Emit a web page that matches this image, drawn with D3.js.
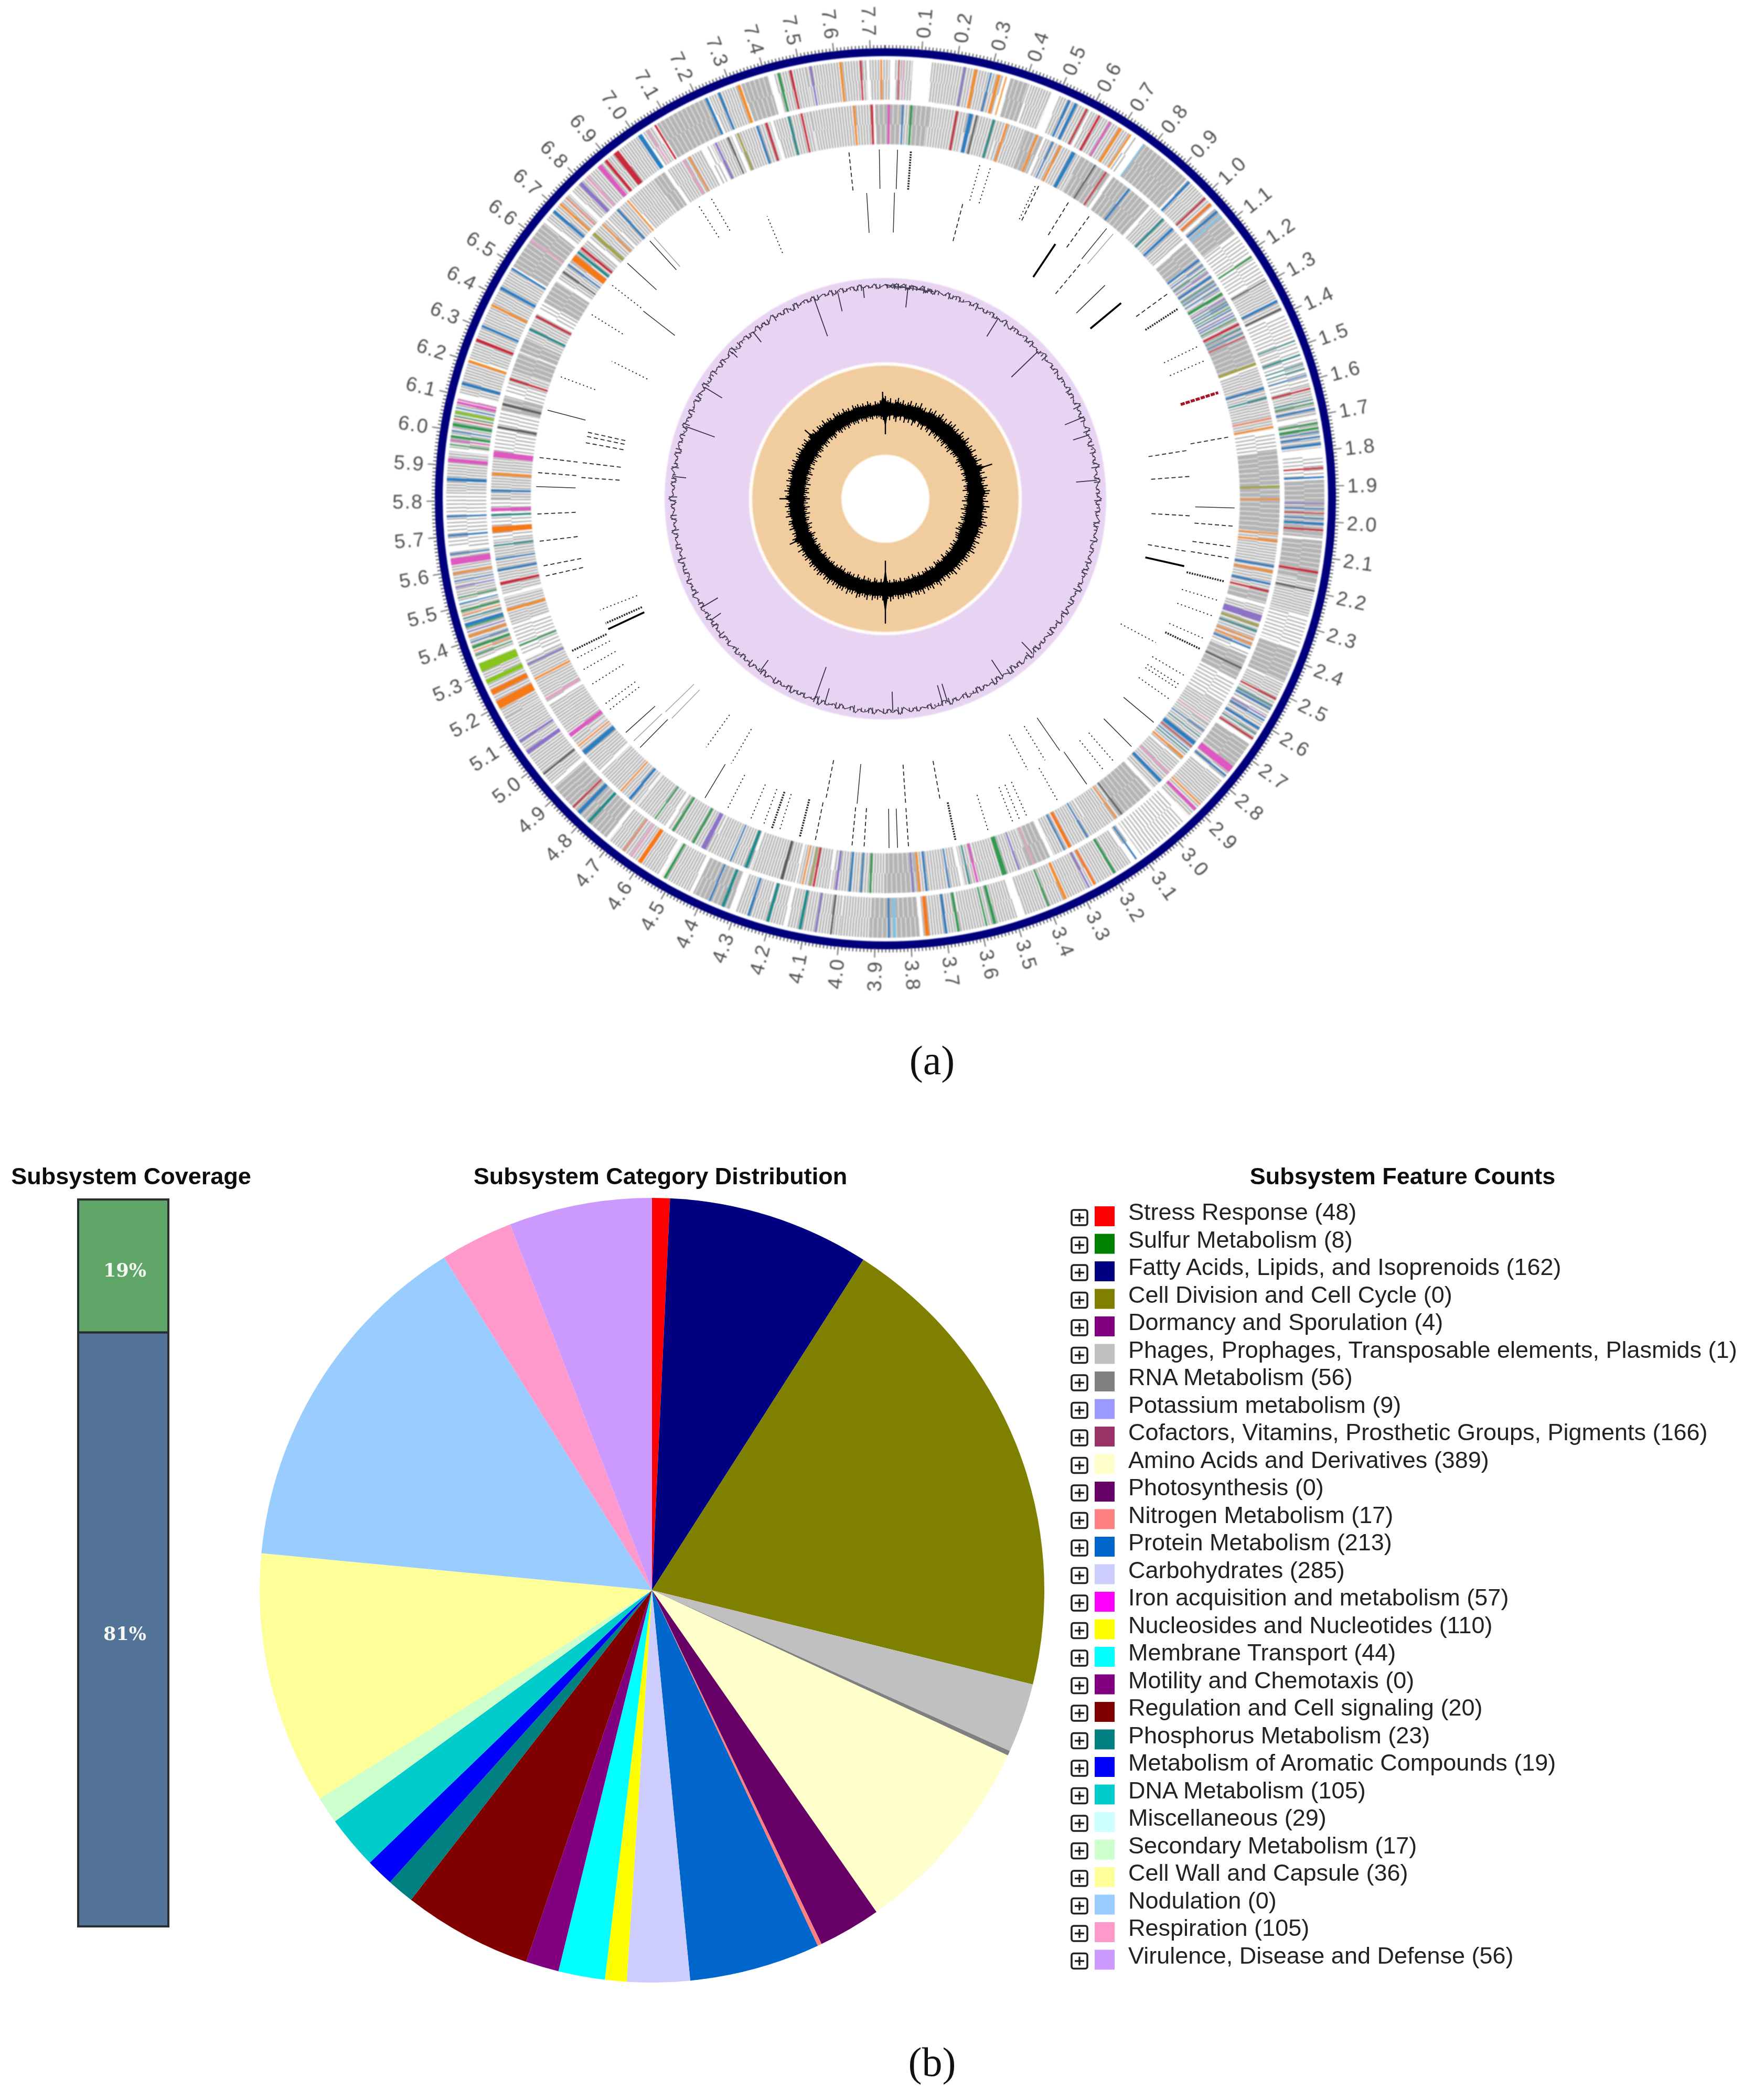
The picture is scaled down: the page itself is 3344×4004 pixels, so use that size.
<!DOCTYPE html>
<html><head><meta charset="utf-8">
<script src="https://cdn.jsdelivr.net/npm/d3@7/dist/d3.min.js"></script>
<style>html,body{margin:0;padding:0;background:#fff}svg{display:block}</style></head>
<body><svg id="c" width="3344" height="4004"></svg>
<script>
// ---------- DATA ----------
const categories=["Stress Response","Sulfur Metabolism","Fatty Acids, Lipids, and Isoprenoids","Cell Division and Cell Cycle","Dormancy and Sporulation","Phages, Prophages, Transposable elements, Plasmids","RNA Metabolism","Potassium metabolism","Cofactors, Vitamins, Prosthetic Groups, Pigments","Amino Acids and Derivatives","Photosynthesis","Nitrogen Metabolism","Protein Metabolism","Carbohydrates","Iron acquisition and metabolism","Nucleosides and Nucleotides","Membrane Transport","Motility and Chemotaxis","Regulation and Cell signaling","Phosphorus Metabolism","Metabolism of Aromatic Compounds","DNA Metabolism","Miscellaneous","Secondary Metabolism","Cell Wall and Capsule","Nodulation","Respiration","Virulence, Disease and Defense"];
const featureCounts=[48,8,162,0,4,1,56,9,166,389,0,17,213,285,57,110,44,0,20,23,19,105,29,17,36,0,105,56];
const categoryColors=["#ff0000","#008000","#000080","#808000","#800080","#c0c0c0","#808080","#9999ff","#993366","#ffffcc","#660066","#ff8080","#0066cc","#ccccff","#ff00ff","#ffff00","#00ffff","#800080","#800000","#008080","#0000ff","#00cccc","#ccffff","#ccffcc","#ffff99","#99ccff","#ff99cc","#cc99ff"];
const pieShares=[2.64,0,29.96,71.3,0,10.3,0.7,0,0,30.2,9.3,0.6,19.4,9.3,0,3.2,6.9,4.9,19.2,4,4.1,7.9,0,4,37.5,52.6,10.8,21.2];
const coverageShares=[18.3,81.7];
const coverageLabels=["19%","81%"];
const coverageColors=["#5fa568","#527297"];
const genomeLengthMb=7.742;
const tickLabels=d3.range(1,78).map(i=>(i/10).toFixed(1));

// ring bands: [start, end, density] in degrees of the genome circle; density 0 solid, 1 hatched, 2 sparse
const outerBands=[[357.9,360.6,1],[1.3,3.6,1],[6.1,15.6,1],[16.6,19.2,0],[19.4,22.3,1],[23.4,27.7,1],[28,33.8,1],[34.3,35,2],[36,43.3,0],[43.5,48.3,1],[48.6,52.8,0],[53,56,2],[56,59.5,2],[59.7,64.6,1],[65,70,2],[70,75,2],[75,79,1],[79.5,83.3,1],[84.3,87.3,2],[87.5,95.2,0],[95.5,101,0],[101,105.6,1],[105.8,110,2],[110.3,114.8,0],[115,119.3,1],[119.5,123.4,1],[124,127.5,0],[127.5,129.6,1],[130,136.3,1],[137,144.3,2],[144.8,145.5,2],[146,151.3,1],[151.5,156,1],[156,161.5,1],[162.5,170,1],[170,175,1],[175.5,182,0],[182,186,1],[186,193,1],[193.5,196,1],[196,200,1],[200.8,206,0],[206.5,210.6,1],[211.2,219,1],[219.5,229,0],[229.5,235,1],[235,240,1],[240,245,1],[245.5,248,1],[248.5,256,1],[256.5,263,1],[263.5,271,2],[271,276.3,1],[276.7,283.3,1],[284,288.3,1],[288.7,295,1],[295,301.5,1],[302,309,0],[309.5,314,1],[314.5,322,1],[322,326,1],[326.5,328,1],[328.6,336,0],[336.3,340.5,1],[340.8,344.5,0],[345.3,349.5,1],[349.5,357.5,1]];
const innerBands=[[358.5,362.2,0],[362.2,364,1],[4,6.5,0],[6.5,12,1],[12,17,1],[17,21,1],[21,23.6,0],[24,30,1],[30,34.8,0],[35.3,42,0],[42.5,49,1],[49.6,52.5,0],[52.5,58,1],[58,63.5,1],[63.5,69.8,0],[70.5,74,1],[74,79.8,1],[80.2,83,2],[83,86,0],[86,95,0],[95,104,1],[104,105.5,0],[106,112.5,1],[112.7,113.4,2],[113.5,117.3,0],[117.6,121.5,2],[121.5,125,1],[125,131.5,1],[131.8,137.2,1],[137.7,143.5,0],[143.5,148,1],[148,154.7,1],[155.3,158.5,0],[158.5,166,1],[166,168.5,1],[169,175,1],[175,180,0],[180,188,1],[188.3,193,1],[193.3,200,1],[200.2,206.5,1],[206.5,213.5,1],[214,219,1],[219.2,226,1],[226.5,232,1],[232,238.5,1],[239,246,1],[246.5,251,2],[251.3,255.5,1],[256,264,1],[264,270,2],[270,276,1],[276.6,283,2],[283,285.2,0],[285.5,287,2],[287,289,1],[289,291.8,0],[292,294,0],[294,298,1],[298.5,300,2],[300,303.5,0],[304,307,1],[307,311,1],[311.5,315,1],[315.3,319,1],[319.5,324,1],[324,326,0],[326.5,332.2,1],[332.8,333.8,2],[334,337,1],[337.5,343,1],[343.5,349,1],[349,358.2,1]];

// gene stripes: [start, end, functional class code]
const stripeColors=["#2b7fc0","#f0902c","#c92a3c","#2f9b52","#88c41c","#8d72c8","#dd58c0","#e2a3c4","#1f8d8d","#5a5a5a","#e58f74","#7cc4ea","#a4a34e","#f47a14"];
const outerStripes=[[359.3,359.6,1],[1.7,1.9,2],[2.3,2.5,7],[10.3,10.6,5],[11.7,12.2,1],[13.8,14.1,0],[14.8,15.3,1],[15.9,16.1,1],[24.6,25,0],[25.5,26,0],[27.2,27.5,2],[29,29.4,2],[30.7,31,6],[32.2,32.7,1],[33.8,34.1,1],[36,36.2,11],[43.6,44,0],[46.6,46.9,2],[47.6,48,13],[48.9,49.3,0],[49.7,50,11],[56.4,56.7,3],[60,60.2,9],[63,63.4,0],[64.2,64.5,9],[68.8,69,8],[70.7,71,8],[72,72.2,8],[72.6,72.8,8],[73.5,73.7,0],[75.3,75.6,2],[76.8,77,8],[77.3,77.5,3],[78,78.3,0],[79.9,80.2,3],[80.5,80.9,3],[81.1,81.3,0],[81.7,82,0],[82.6,83,0],[85.8,86.1,2],[87,87.3,0],[90.5,90.7,5],[91.2,91.4,0],[91.8,92,2],[92.5,92.7,0],[93.1,93.5,0],[94,94.3,2],[99.5,99.9,2],[102,102.3,9],[117,117.3,2],[118.1,118.3,8],[118.5,118.8,0],[119.8,120,5],[120.2,120.5,0],[121.4,121.8,0],[122.3,122.5,8],[123,123.3,2],[127.5,128.6,6],[129,129.3,0],[134,134.3,1],[134.8,135.3,6],[145,145.3,0],[148.3,148.7,3],[151.3,151.7,13],[152.2,152.5,5],[155.5,156,1],[158,158.3,3],[165.3,165.8,3],[166.5,166.8,3],[170.2,170.6,3],[171.8,172.2,0],[174.2,174.8,13],[178.6,179,11],[179.4,179.7,0],[187,187.3,9],[189,189.3,5],[191,191.5,8],[195.3,195.8,8],[198,198.4,0],[201.5,202,8],[203.5,203.8,0],[210,210.4,3],[213.7,214.4,13],[215.2,215.6,7],[216.5,216.8,10],[222.3,222.8,8],[224,224.6,0],[225.2,225.5,2],[231,231.3,9],[234.4,235,5],[236.2,236.6,5],[241.3,242.6,13],[243.4,244.2,13],[245,245.7,4],[246.7,248,4],[249,249.2,3],[249.6,249.8,1],[250,250.4,3],[250.8,251,0],[251.5,251.9,1],[252.2,252.4,5],[252.8,253,3],[253,253.5,0],[254,254.2,8],[254.5,254.7,1],[255,255.3,3],[256,256.2,0],[256.8,257,3],[258.2,258.4,5],[259,259.2,0],[260,260.3,1],[261.2,262.2,6],[262.6,262.8,0],[265,265.3,0],[267.5,267.8,0],[272.3,272.8,0],[274.8,275.4,6],[277,277.2,3],[277.6,277.8,6],[278,278.4,3],[278.8,279,0],[279.5,280,3],[280.4,280.6,2],[280.8,281,3],[281.2,281.6,4],[281.9,282.1,0],[282.5,282.9,6],[283,283.2,6],[285,285.5,0],[288.1,288.5,1],[291,291.5,2],[293,293.4,0],[296,296.4,1],[298.5,299,0],[301.5,301.8,0],[306,306.3,7],[310.7,311.2,0],[312,312.4,1],[313.2,313.5,10],[315.7,316.3,5],[317,317.4,7],[319,319.7,6],[320.2,320.7,2],[321.7,322.6,2],[325.6,326.3,0],[327,327.3,7],[328.2,328.5,2],[335.7,336.1,0],[337.5,337.9,0],[340.2,340.7,1],[345.7,346.1,3],[347.3,347.7,2],[350,350.3,5],[353.9,354.3,1],[356.6,356.9,2]];
const innerStripes=[[0.3,0.7,6],[2.4,2.7,0],[3.6,4,3],[10.3,10.7,2],[12.2,12.9,0],[13.3,13.6,9],[15.8,16.2,8],[17.8,18.2,1],[22.5,22.9,1],[25,25.3,0],[26.2,26.6,1],[28.2,28.9,0],[32,32.3,9],[33.9,34.2,2],[38,38.4,0],[44.6,45,8],[46.5,47,0],[52.5,52.9,0],[53.5,53.7,0],[54.2,54.4,8],[54.8,55,5],[55.5,55.9,0],[56.4,56.6,8],[56.9,57.1,0],[57.6,57.8,0],[58.4,58.9,3],[59.4,59.6,5],[59.9,60.1,8],[60.3,60.5,0],[60.8,61,3],[61.2,61.4,0],[61.8,62,5],[62.2,62.4,0],[62.7,62.9,3],[63.5,63.9,2],[64.3,64.5,8],[65,65.2,0],[65.6,65.8,2],[69.7,70.2,12],[73.5,73.9,0],[75,75.3,8],[78,78.4,10],[79.3,79.7,1],[88,88.4,12],[89.9,90.2,1],[95,95.3,1],[96,96.4,1],[99.7,100.1,0],[100.5,100.9,1],[102.3,102.7,0],[103.4,103.8,2],[107.1,108.2,5],[108.6,109,12],[109.5,109.8,8],[110.8,111.1,1],[111.5,111.8,1],[112.1,112.4,0],[115.3,115.6,9],[124.4,124.6,7],[126,126.2,0],[127,127.2,8],[128,128.7,0],[128.9,129.1,2],[129.5,129.7,0],[130,130.2,8],[130.8,131.2,1],[133.9,134.3,7],[135.4,136,0],[143,143.3,9],[144,144.3,1],[149,149.3,0],[151.8,152.4,13],[152.8,153.1,0],[157.7,158,7],[160,160.3,5],[162,162.8,3],[166.3,166.7,6],[167.5,167.8,8],[170.5,170.8,0],[173.8,174.2,0],[174.8,175.2,1],[175.8,176.1,5],[182,182.4,3],[183.4,183.7,0],[185,185.4,0],[187,187.4,5],[190.3,190.7,2],[190.9,191.2,12],[192,192.3,1],[195,195.5,9],[200.4,201,8],[203,203.3,0],[207.1,207.9,5],[209,209.4,3],[212.4,212.8,3],[215.6,215.9,3],[220.2,220.7,0],[222,222.3,1],[229.5,230.3,0],[231,231.3,1],[232.8,233.5,6],[239.2,239.7,7],[242.6,243,1],[245,245.3,5],[248,248.3,3],[253.3,253.8,1],[257.3,257.8,2],[259.3,259.7,0],[261,261.3,0],[263,263.3,8],[265,266,13],[267.4,267.8,8],[268.1,268.7,6],[271,271.4,0],[273.4,273.9,1],[276,277,6],[280.3,280.7,9],[283.7,284.1,9],[287.5,287.9,2],[295.3,295.7,8],[297.4,297.8,2],[305,305.3,9],[306.3,306.6,0],[307.2,308.3,13],[308.5,309,8],[309.3,309.8,2],[312,312.6,12],[314,314.3,1],[317,317.4,0],[319,319.3,1],[329,329.4,7],[330,330.3,1],[334.3,334.7,5],[336.3,336.6,9],[337.8,338.2,12],[340.8,341.2,0],[342.2,342.6,2],[345.6,346,8],[347.5,347.9,2],[355.2,355.6,1],[357.8,358.2,2]];

// sparse feature tracks: [position, kind]  kind 0 solid,1 dotted,2 dashed,3 heavy,4 heavy dotted,5 faint,6 red
const trackA=[[354,2],[359,0],[2,0],[4.2,4],[15.8,1],[17.6,1],[25.6,1],[26.1,2],[31.7,2],[35.8,2],[39.3,0],[40.7,5],[54,2],[57,4],[64,1],[66.6,1],[72.3,6],[79.8,2],[91.5,0],[94.5,2],[97.9,2],[99.8,2],[103.7,4],[107,1],[109.7,1],[113.7,1],[115.5,4],[120.6,1],[122.3,1],[123,1],[125.2,1],[129.8,0],[135.2,0],[139,1],[141.2,1],[144.8,0],[150.3,1],[156,1],[157.3,1],[158.5,1],[162.8,1],[168.4,4],[176.2,2],[178,0],[179.4,0],[183.5,2],[185.5,2],[191.6,2],[194.2,4],[197.7,1],[199,4],[200.5,1],[202.8,1],[207,1],[211.1,0],[224.6,0],[226.1,5],[228,0],[232.6,1],[233.8,1],[237.7,1],[240.5,1],[242.7,1],[244.1,4],[257.2,2],[258.9,2],[263,2],[267.5,2],[272,0],[274.3,2],[276.8,2],[284.7,0],[290.6,1],[302.1,1],[308,1],[312.4,0],[317.6,0],[318.5,5],[327.5,1],[329.9,1]];
const trackB=[[356.5,0],[1.7,0],[14.7,2],[33.7,3],[39.7,2],[45.8,0],[50.3,3],[80.9,2],[85.8,2],[93.2,2],[99.9,2],[102.7,3],[118,1],[145.3,0],[148.6,1],[152.3,1],[169.7,2],[176.2,2],[185.3,0],[191.2,2],[210.2,1],[215.8,1],[224.2,5],[225.9,5],[244.8,3],[246,4],[248.7,1],[274,2],[276.8,2],[280.6,2],[281.8,2],[282.6,2],[296.7,1],[307.8,0],[337.3,1]];

// GC content, one reading per degree (deviation around the ring mean)
const gcValues=[3,-2,5,-3,1,6,-4,2,4,-1,7,-3,2,-5,4,1,-2,6,-4,3,5,-3,0,4,-2,7,-1,3,-4,2,5,-3,1,-2,6,0,-5,3,4,-2,1,5,-3,6,-1,2,-4,3,7,-2,0,4,-3,5,1,-5,3,2,-2,6,-4,4,1,-3,8,-2,3,-5,5,0,-2,7,-3,1,4,-6,2,6,-2,3,-4,8,-1,2,-5,6,1,-3,4,-2,7,-4,2,5,-3,0,6,-5,3,2,-2,7,-1,-4,4,1,-3,6,-2,5,-6,3,0,4,-3,8,-2,1,-5,5,2,-3,7,-4,0,6,-2,3,-6,5,1,-3,4,-2,6,-5,2,8,-3,0,5,-4,3,-7,6,1,-2,4,-5,7,-1,2,-3,5,-6,3,1,6,-4,0,4,-3,7,-2,-5,3,2,6,-4,1,-2,5,-3,4,0,-6,7,-2,3,-4,5,1,-3,6,-5,2,4,-1,7,-4,0,3,-5,6,-2,1,4,-3,8,-6,2,0,5,-3,4,-2,7,-5,1,3,-4,6,0,-2,5,-6,3,2,-3,7,-1,4,-5,2,6,-3,0,5,-2,-4,7,1,3,-6,4,-2,6,-3,1,5,-5,2,0,7,-4,3,-2,6,-1,-5,4,3,-3,8,-2,1,-6,5,0,3,-4,7,-2,2,-5,6,1,-3,4,-6,8,-1,2,-3,5,-5,3,0,7,-4,2,-2,6,-6,1,4,-3,5,-1,-5,7,2,3,-4,6,-2,0,5,-6,4,1,-3,7,-2,-4,3,6,-1,2,-5,5,0,-3,4,7,-2,-6,3,1,5,-4,2,-1,6,-3,4,-5,0,7,-2,3,-4,5,1,-6,6,-2,2,4,-3,5,-5,0,3,-2,6,-4,1,5,-3,2,4,-5,6,-1,3,-2,5,-4,0,4,2,-3,6,-2,1,-4,5,3,-1,2,-5,4,0];
// GC content excursions towards the centre: [position, depth]
const gcSpikes=[[340.4,-76],[347,-38],[354,-20],[6.1,-38],[32,-40],[46,-71],[67.6,-35],[72.6,-30],[85,-40],[136.4,-28],[146.6,-37],[164.4,-36],[163,-36],[178,-37],[199.4,-65],[196.5,-28],[216,-25],[239.4,-34],[235.2,-23],[276,-23],[289.9,-59],[301.7,-39],[313.7,-15],[321.6,-24]];
// GC skew, upper and lower envelope, one reading per 1.5 degrees
const skewHigh=[26,18,22,14,20,24,17,21,15,19,23,16,22,18,25,17,20,14,23,19,24,17,21,26,18,22,16,24,20,25,18,23,17,26,21,19,27,22,18,24,20,26,17,23,21,28,19,25,44,22,26,19,28,23,20,27,24,30,28,24,21,26,19,29,23,25,20,28,22,26,30,24,21,27,23,25,19,28,22,26,24,29,21,25,23,27,20,24,22,26,19,28,23,21,25,18,24,20,27,22,19,25,21,23,18,26,20,24,22,17,25,21,19,24,20,23,18,22,26,21,68,24,19,23,21,25,18,26,22,20,24,27,19,23,21,26,18,24,22,25,20,23,19,26,21,24,18,22,25,20,23,19,24,21,17,23,20,22,18,25,16,21,19,32,24,18,20,15,22,17,21,19,14,23,18,20,16,22,19,15,32,21,17,23,18,20,15,22,19,16,21,24,17,20,18,22,15,19,21,17,23,16,20,18,22,15,19,32,17,21,14,20,18,16,22,15,19,17,13,21,16,18,14,20,15,17,12,19,16,18,14,17,13,19,15,11,17,14,18,34];
const skewLow=[-47,-14,-20,-11,-17,-22,-12,-18,-10,-21,-14,-19,-12,-22,-16,-11,-20,-15,-22,-13,-18,-21,-14,-24,-17,-19,-22,-15,-23,-18,-20,-24,-16,-21,-19,-23,-15,-20,-17,-18,-13,-16,-20,-14,-19,-15,-17,-12,-18,-16,-14,-20,-15,-13,-19,-17,-22,-14,-16,-20,-18,-24,-15,-21,-19,-25,-17,-22,-18,-23,-20,-16,-24,-19,-21,-25,-17,-22,-20,-18,-13,-19,-15,-20,-14,-17,-12,-18,-16,-13,-20,-14,-12,-17,-15,-19,-10,-14,-16,-11,-18,-13,-15,-10,-17,-12,-14,-18,-11,-16,-13,-15,-10,-17,-12,-14,-16,-11,-15,-13,-52,-12,-17,-11,-15,-18,-10,-14,-16,-12,-18,-11,-13,-17,-10,-15,-12,-16,-14,-11,-17,-13,-18,-12,-15,-11,-16,-14,-12,-17,-13,-15,-18,-11,-16,-14,-17,-19,-13,-16,-20,-15,-18,-22,-16,-14,-20,-17,-23,-15,-19,-21,-16,-24,-18,-20,-25,-17,-22,-19,-26,-21,-18,-24,-20,-23,-17,-25,-19,-21,-22,-16,-24,-20,-18,-23,-15,-21,-19,-22,-17,-20,-24,-16,-19,-21,-18,-15,-22,-17,-20,-14,-19,-16,-21,-18,-13,-17,-20,-15,-18,-14,-19,-16,-13,-17,-15,-18,-12,-16,-14,-19,-13,-15,-17,-12,-16,-14,-18,-20];

// ---------- DRAW ----------
const svg=d3.select("#c");
const defs=svg.append("defs");
[["soft",1.1],["faint",0.7]].forEach(([id,s])=>defs.append("filter").attr("id",id).attr("x","-5%").attr("y","-5%").attr("width","110%").attr("height","110%").append("feGaussianBlur").attr("stdDeviation",s));

const G=svg.append("g").attr("transform","translate(1688,951)").attr("filter","url(#soft)");
const H=svg.append("g").attr("transform","translate(1688,951)").attr("filter","url(#faint)");
const deg=d3.scaleLinear().domain([0,360]).range([0,2*Math.PI]);
const mbScale=d3.scaleLinear().domain([0,genomeLengthMb]).range([0,2*Math.PI]);
const arc=d3.arc();
const ringArc=(r0,r1,a,b)=>arc({innerRadius:r0,outerRadius:r1,startAngle:a,endAngle:b});
const circ=(r0,r1,fill)=>G.append("path").attr("d",ringArc(r0,r1,0,2*Math.PI)).attr("fill",fill);
const radial=(a,r0,r1)=>{const p=d3.pointRadial(a,r0),q=d3.pointRadial(a,r1);return `M${p}L${q}`;};
const arcLine=(r,a,b)=>{const p=d3.path();p.arc(0,0,r,a-Math.PI/2,b-Math.PI/2);return p.toString();};

// coloured discs
circ(260,421,"#e8d4f2");circ(254,260,"#fffdf8");circ(84,254,"#f1cc9e");

// GC content trace
const gcR=d3.scaleLinear().domain([-10,10]).range([395,415]);
H.append("path").attr("d",d3.lineRadial().angle((d,i)=>deg(i)).radius(d=>gcR(d)).curve(d3.curveLinearClosed)(gcValues)).attr("fill","none").attr("stroke","#443c52").attr("stroke-width",1.6);
H.append("g").selectAll("path").data(gcValues).join("path").attr("d",(d,i)=>radial(deg(i+0.5),gcR(d),gcR(-d))).attr("stroke","#443c52").attr("stroke-width",2);
const gcDepth=d3.scaleLinear().domain([0,-100]).range([405,305]);
H.append("g").selectAll("path").data(gcSpikes).join("path").attr("d",d=>radial(deg(d[0]),405,gcDepth(d[1]))).attr("stroke","#35304a").attr("stroke-width",1.8);

// GC skew: dense core plus individual needles
const skewR=d3.scaleLinear().domain([-60,80]).range([110,250]);
H.append("path").attr("d",d3.areaRadial().angle((d,i)=>deg(i*1.5)).innerRadius((d,i)=>skewR(skewLow[i]*0.72)).outerRadius(d=>skewR(d*0.72)).curve(d3.curveLinearClosed)(skewHigh)).attr("fill","#050505");
H.append("g").selectAll("path").data(skewHigh).join("path").attr("d",(d,i)=>radial(deg(i*1.5),skewR(skewLow[i]),skewR(d))).attr("stroke","#050505").attr("stroke-width",(d,i)=>(d>30||skewLow[i]<-30)?2.4:2.2);

// sparse tracks
const kindStyle=[{c:"#333",w:1.5,d:null},{c:"#333",w:2,d:"2.5 5"},{c:"#333",w:1.9,d:"8 5"},{c:"#000",w:3.6,d:null},{c:"#333",w:3.8,d:"3 2"},{c:"#aaa",w:1.6,d:null},{c:"#a8122a",w:5.5,d:"8 2"}];
const drawTrack=(data,r0,r1)=>H.append("g").selectAll("path").data(data).join("path").attr("d",d=>radial(deg(d[0]),r0,r1)).attr("stroke",d=>kindStyle[d[1]].c).attr("stroke-width",d=>kindStyle[d[1]].w).attr("stroke-dasharray",d=>kindStyle[d[1]].d);
drawTrack(trackA,591,666);drawTrack(trackB,508,584);

// CDS rings
function drawRing(bands,stripes,r0,r1){
  const g=G.append("g"),t=(r1-r0)/2;
  bands.forEach(([s,e,k])=>{
    const a=deg(s),b=deg(e);
    g.append("path").attr("d",ringArc(r0,r1,a,b)).attr("fill",k==2?"#ffffff":"#b4b4b4");
    [[r0+t/2,0],[r1-t/2,2.5]].forEach(([r,off])=>{
      const col=k==2?"#a6a6a6":"#ffffff";
      const dash=k==0?"1 8":k==1?"1.9 3.4":"2.4 4.6";
      g.append("path").attr("d",arcLine(r,a,b)).attr("fill","none").attr("stroke",col).attr("stroke-width",t+0.3).attr("stroke-dasharray",dash).attr("stroke-dashoffset",off);
    });
  });
  g.selectAll(".st").data(stripes).join("path").attr("d",d=>{const m=(d[0]+d[1])/2,w=(d[1]-d[0])*0.45;return ringArc(r0,r1,deg(m-w),deg(m+w));}).attr("fill",d=>stripeColors[d[2]]);
}
drawRing(outerBands,outerStripes,761,837);
drawRing(innerBands,innerStripes,676,752);

// navy ring and scale
circ(844,859,"#00007c");
G.append("g").selectAll("path").data(d3.range(0,genomeLengthMb,0.01)).join("path").attr("d",d=>radial(mbScale(d),858,865)).attr("stroke","#223").attr("stroke-width",1.6);
G.append("g").selectAll("path").data(tickLabels).join("path").attr("d",d=>radial(mbScale(+d),858,875)).attr("stroke","#555").attr("stroke-width",1.8);
const TL=svg.append("g").attr("transform","translate(1688,951)").attr("filter","url(#soft)");
TL.selectAll("text").data(tickLabels).join("text").text(d=>d)
 .attr("transform",d=>{const a=mbScale(+d)*180/Math.PI-90;return a<=90?`rotate(${a}) translate(881,0)`:`rotate(${a}) translate(881,0) rotate(180)`;})
 .attr("text-anchor",d=>mbScale(+d)*180/Math.PI-90<=90?"start":"end").attr("dy","0.36em")
 .attr("font-family","Liberation Sans").attr("font-size",38).attr("letter-spacing",2).attr("fill","#505050");

// captions
const serif="Liberation Serif";
[["(a)",2048],["(b)",3958]].forEach(([t,y])=>svg.append("text").text(t).attr("x",1777).attr("y",y).attr("text-anchor","middle").attr("font-family",serif).attr("font-size",78).attr("fill","#111"));

// panel b titles
const B=svg.append("g").attr("filter","url(#faint)");
[["Subsystem Coverage",250],["Subsystem Category Distribution",1259],["Subsystem Feature Counts",2674]].forEach(([t,x])=>B.append("text").text(t).attr("x",x).attr("y",2258).attr("text-anchor","middle").attr("font-family","Liberation Sans").attr("font-weight","bold").attr("font-size",45).attr("fill","#0a0a0a"));

// coverage bar
const cov=d3.scaleLinear().domain([0,100]).range([2287,3673]);
let acc=0;
coverageShares.forEach((v,i)=>{
  B.append("rect").attr("x",149).attr("width",172).attr("y",cov(acc)).attr("height",cov(acc+v)-cov(acc)).attr("fill",coverageColors[i]).attr("stroke","#262d33").attr("stroke-width",4);
  B.append("text").text(coverageLabels[i]).attr("x",238).attr("y",(cov(acc)+cov(acc+v))/2+20).attr("text-anchor","middle").attr("font-family","DejaVu Serif").attr("font-weight","bold").attr("font-size",35).attr("fill","#f4f7f2");
  acc+=v;
});

// pie
const pie=d3.pie().sort(null).value(d=>d)(pieShares);
const pieArc=d3.arc().innerRadius(0).outerRadius(748);
svg.append("g").attr("transform","translate(1243,3032)").selectAll("path").data(pie).join("path").attr("d",pieArc).attr("fill",(d,i)=>categoryColors[i]);

// legend
const rowY=d3.scaleLinear().domain([0,1]).range([2300,2352.5]);
const L=B.selectAll(".row").data(categories).join("g").attr("transform",(d,i)=>`translate(0,${rowY(i)})`);
L.append("rect").attr("x",2043).attr("y",7).attr("width",30).attr("height",29).attr("rx",4).attr("fill","#fff").attr("stroke","#222").attr("stroke-width",3.6);
L.append("path").attr("d","M2049,21.5H2067M2058,13V30").attr("stroke","#222").attr("stroke-width",3.4);
L.append("rect").attr("x",2087).attr("y",0).attr("width",38).attr("height",38).attr("fill",(d,i)=>categoryColors[i]);
L.append("text").text((d,i)=>`${d} (${featureCounts[i]})`).attr("x",2151).attr("y",26).attr("font-family","Liberation Sans").attr("font-size",45).attr("fill","#222");
</script></body></html>
